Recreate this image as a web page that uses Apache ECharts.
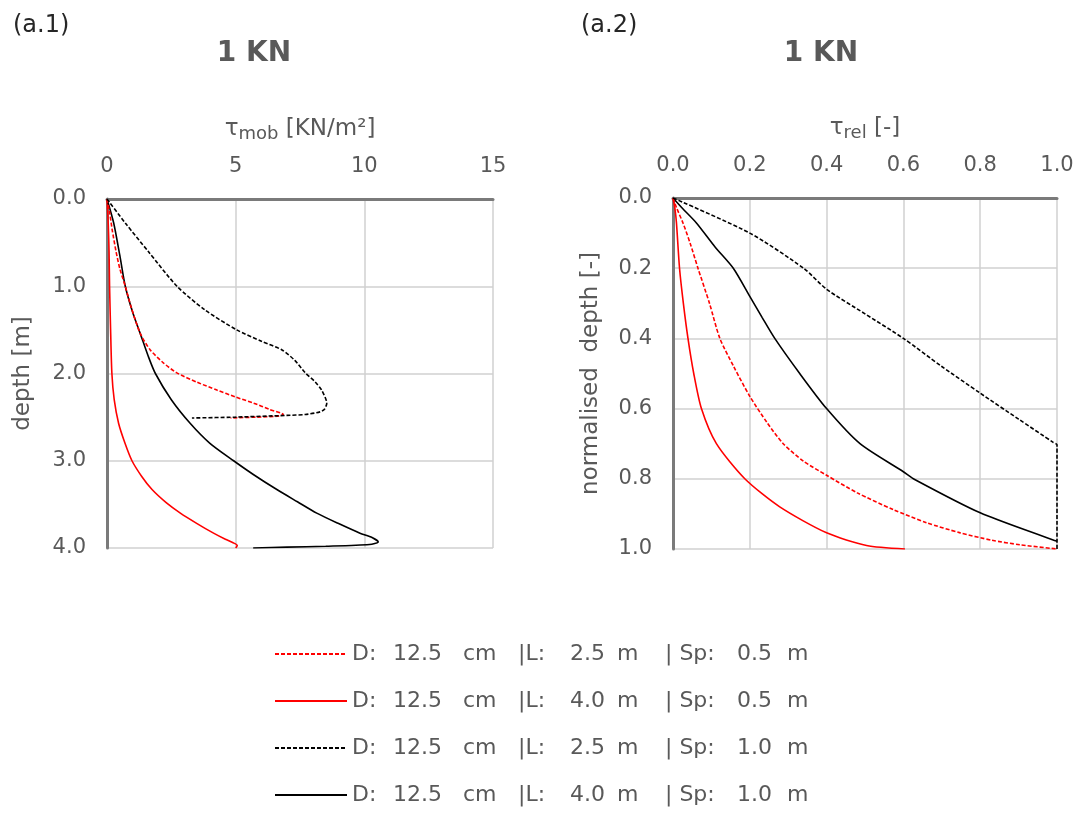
<!DOCTYPE html>
<html><head><meta charset="utf-8">
<script src="https://cdn.jsdelivr.net/npm/echarts@6/dist/echarts.min.js"></script>
<style>html,body{margin:0;padding:0;background:#fff}#c{width:1089px;height:820px}</style>
</head><body><div id="c"></div>
<script>
// Series names
const seriesNames = [
  'D: 12.5 cm  |L: 2.5 m  | Sp: 0.5 m',
  'D: 12.5 cm  |L: 4.0 m  | Sp: 0.5 m',
  'D: 12.5 cm  |L: 2.5 m  | Sp: 1.0 m',
  'D: 12.5 cm  |L: 4.0 m  | Sp: 1.0 m'
];
// Tick values
const leftXTicks = [0, 5, 10, 15];
const leftYTicks = [0, 1, 2, 3, 4];
const rightXTicks = [0, 0.2, 0.4, 0.6, 0.8, 1.0];
const rightYTicks = [0, 0.2, 0.4, 0.6, 0.8, 1.0];

// (a.1) tau_mob [KN/m2] vs depth [m]
const redDashedL = [[0,0],[0.1,0.15],[0.2,0.35],[0.35,0.6],[0.5,0.8],[0.71,1.0],[0.95,1.25],[1.29,1.54],[1.68,1.73],[2.2,1.88],[2.7,1.99],[3.5,2.1],[4.27,2.19],[5.0,2.27],[5.7,2.34],[6.3,2.41],[6.85,2.47],[6.6,2.49],[5.8,2.5],[4.8,2.51]];
const redSolidL = [[0,0],[0.05,0.3],[0.08,0.6],[0.1,1.0],[0.14,1.5],[0.19,2.0],[0.28,2.3],[0.45,2.57],[0.7,2.8],[0.97,3.0],[1.35,3.18],[1.75,3.33],[2.3,3.48],[2.85,3.6],[3.5,3.72],[4.14,3.83],[4.6,3.9],[4.9,3.94],[5.06,3.97],[5.0,4.0]];
const blackDashedL = [[0,0],[0.71,0.275],[1.6,0.6],[2.72,1.0],[3.8,1.27],[5.04,1.5],[6.0,1.63],[6.8,1.73],[7.3,1.85],[7.7,1.99],[8.1,2.1],[8.34,2.19],[8.54,2.34],[8.45,2.41],[8.28,2.44],[7.7,2.47],[6.98,2.48],[5.0,2.5],[3.3,2.51]];
const blackSolidL = [[0,0],[0.26,0.275],[0.5,0.65],[0.71,1.0],[1.0,1.3],[1.29,1.54],[1.6,1.8],[1.88,2.0],[2.5,2.3],[3.23,2.57],[4.0,2.8],[4.92,3.0],[5.7,3.16],[6.6,3.33],[7.4,3.47],[8.15,3.6],[9.0,3.72],[9.83,3.83],[10.3,3.88],[10.54,3.93],[10.2,3.96],[8.5,3.98],[7.0,3.99],[5.68,4.0]];

// (a.2) tau_rel [-] vs normalised depth [-]
const redDashedR = [[0,0],[0.01,0.03],[0.026,0.071],[0.045,0.13],[0.065,0.2],[0.095,0.3],[0.122,0.4],[0.158,0.48],[0.2,0.565],[0.245,0.64],[0.287,0.7],[0.34,0.75],[0.4,0.79],[0.48,0.84],[0.574,0.888],[0.66,0.925],[0.748,0.954],[0.83,0.975],[0.904,0.988],[1.0,1.0]];
const redSolidR = [[0,0],[0.005,0.03],[0.009,0.071],[0.017,0.2],[0.027,0.3],[0.039,0.4],[0.054,0.5],[0.074,0.6],[0.113,0.7],[0.187,0.8],[0.278,0.88],[0.4,0.954],[0.504,0.99],[0.604,1.0]];
const blackDashedR = [[0,0],[0.2,0.1],[0.34,0.2],[0.4,0.26],[0.5,0.33],[0.6,0.4],[0.7,0.48],[0.8,0.556],[0.9,0.63],[0.99,0.696],[1.0,0.703],[1.0,0.71],[1.0,1.0]];
const blackSolidR = [[0,0],[0.025,0.03],[0.061,0.071],[0.11,0.14],[0.157,0.2],[0.2,0.28],[0.232,0.34],[0.265,0.4],[0.33,0.5],[0.4,0.6],[0.487,0.7],[0.6,0.78],[0.626,0.8],[0.8,0.897],[1.0,0.978]];

const FONT = '"DejaVu Sans", Verdana, sans-serif';
const TXT = '#595959';
const GRIDC = '#d0d0d0';
const AXC = '#7a7a7a';

function xAxisCfg(gridIndex, ticks, name, fmt) {
  return {
    type: 'value', gridIndex, position: 'top',
    min: ticks[0], max: ticks[ticks.length-1], interval: ticks[1]-ticks[0],
    name, nameLocation: 'middle', nameGap: 56,
    nameTextStyle: { fontFamily: FONT, fontSize: 23, color: TXT,
      rich: { sub: { fontFamily: FONT, fontSize: 18, color: TXT, verticalAlign: 'bottom', padding: [9,0,0,0] } } },
    axisLine: { show: true, onZero: false, lineStyle: { color: AXC, width: 3 } },
    axisTick: { show: false },
    axisLabel: { fontFamily: FONT, fontSize: 21, color: TXT, margin: 22, formatter: fmt },
    splitLine: { show: true, lineStyle: { color: GRIDC, width: 1.5 } }
  };
}
function yAxisCfg(gridIndex, ticks, name, gap) {
  return {
    type: 'value', gridIndex, inverse: true,
    min: ticks[0], max: ticks[ticks.length-1], interval: ticks[1]-ticks[0],
    name, nameLocation: 'middle', nameGap: gap, nameRotate: 90,
    nameTextStyle: { fontFamily: FONT, fontSize: 23, color: TXT },
    axisLine: { show: true, onZero: false, lineStyle: { color: AXC, width: 3 } },
    axisTick: { show: false },
    axisLabel: { fontFamily: FONT, fontSize: 21, color: TXT, margin: 21, formatter: v => v.toFixed(1) },
    splitLine: { show: true, lineStyle: { color: GRIDC, width: 1.5 } }
  };
}
function ser(name, data, color, dashed, xi) {
  return {
    type: 'line', name, data, xAxisIndex: xi, yAxisIndex: xi,
    symbol: 'none', smooth: 0.25, z: dashed ? 3 : 2,
    lineStyle: { color, width: 1.6, type: dashed ? [4, 2] : 'solid' },
    itemStyle: { color }
  };
}
// legend word slots (px widths) to mimic the wide spacing of the original
const legSlots = [41, 70, 55, 52, 47, 48, 72, 50];
const legRich = {};
legSlots.forEach((w, i) => { legRich['t' + i] = { fontFamily: FONT, fontSize: 22, color: TXT, width: w }; });
legRich['t' + legSlots.length] = { fontFamily: FONT, fontSize: 22, color: TXT };

const chart = echarts.init(document.getElementById('c'), null, { renderer: 'canvas' });
chart.setOption({
  animation: false,
  backgroundColor: '#fff',
  textStyle: { fontFamily: FONT },
  title: [
    { text: '(a.1)', left: 8, top: 9, textStyle: { fontFamily: FONT, fontSize: 24, fontWeight: 'normal', color: '#262626' } },
    { text: '(a.2)', left: 576, top: 9, textStyle: { fontFamily: FONT, fontSize: 24, fontWeight: 'normal', color: '#262626' } },
    { text: '1 KN', left: 249, top: 35, textAlign: 'center', textStyle: { fontFamily: FONT, fontSize: 28, fontWeight: 'bold', color: TXT } },
    { text: '1 KN', left: 816, top: 35, textAlign: 'center', textStyle: { fontFamily: FONT, fontSize: 28, fontWeight: 'bold', color: TXT } }
  ],
  grid: [
    { left: 107, top: 199, width: 386, height: 349 },
    { left: 673, top: 198, width: 384, height: 351 }
  ],
  xAxis: [
    xAxisCfg(0, leftXTicks, 'τ{sub|mob} [KN/m²]', v => String(v)),
    xAxisCfg(1, rightXTicks, 'τ{sub|rel} [-]', v => v.toFixed(1))
  ],
  yAxis: [
    yAxisCfg(0, leftYTicks, 'depth [m]', 72),
    yAxisCfg(1, rightYTicks, 'normalised  depth [-]', 70)
  ],
  legend: {
    orient: 'vertical', left: 274, top: 643,
    itemWidth: 72, itemHeight: 14, itemGap: 25, padding: 0,
    itemStyle: { opacity: 0 },
    textStyle: { fontFamily: FONT, fontSize: 22, color: TXT, rich: legRich },
    formatter: name => {
      const toks = name.replace('| ', '|#').split(/ +/).map(s => s.replace('|#', '| '));
      return toks.map((t, i) => '{t' + i + '|' + t + '}').join('');
    },
    data: seriesNames
  },
  series: [
    ser(seriesNames[0], redDashedL, '#ff0000', true, 0),
    ser(seriesNames[1], redSolidL, '#ff0000', false, 0),
    ser(seriesNames[2], blackDashedL, '#000000', true, 0),
    ser(seriesNames[3], blackSolidL, '#000000', false, 0),
    ser(seriesNames[0], redDashedR, '#ff0000', true, 1),
    ser(seriesNames[1], redSolidR, '#ff0000', false, 1),
    ser(seriesNames[2], blackDashedR, '#000000', true, 1),
    ser(seriesNames[3], blackSolidR, '#000000', false, 1)
  ]
});
</script></body></html>
